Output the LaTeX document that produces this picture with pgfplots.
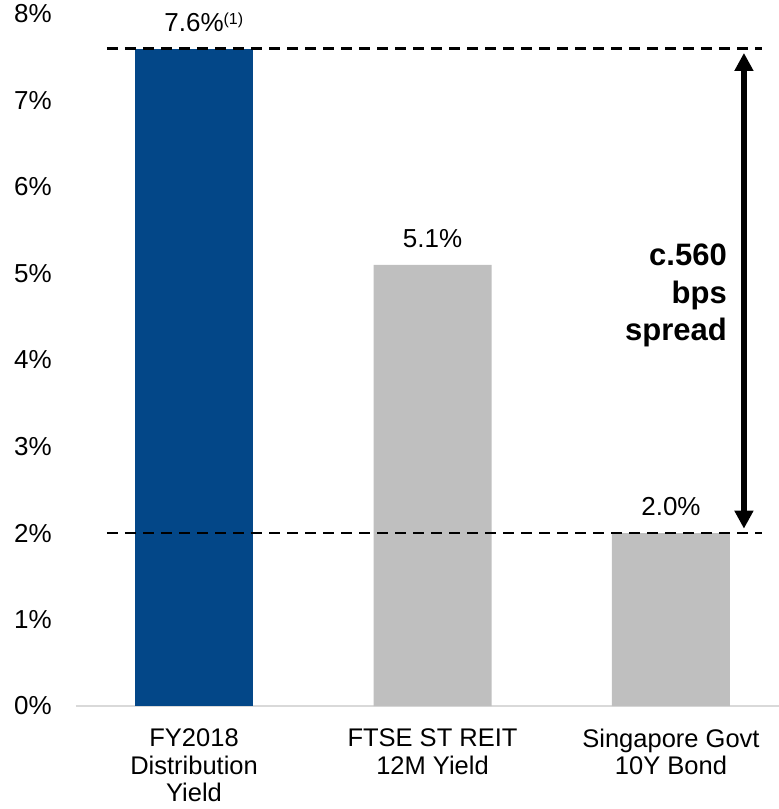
\documentclass[border=0pt]{standalone}
\usepackage{pgfplots}
\pgfplotsset{compat=1.18}
\usetikzlibrary{arrows.meta}
\usepackage{fontspec}
\setmainfont{Liberation Sans}
\definecolor{barblue}{RGB}{3,71,136}
\definecolor{bargray}{RGB}{191,191,191}
\definecolor{axisgray}{RGB}{217,217,217}
\begin{document}
\begin{tikzpicture}
\begin{axis}[
  at={(0,0)}, anchor=south west,
  scale only axis, width=703pt, height=692pt,
  xmin=-0.495, xmax=2.453, ymin=0, ymax=8,
  clip=false,
  axis lines*=left,
  y axis line style={draw=none},
  x axis line style={axisgray, line width=1.5pt},
  major tick length=0pt,
  tick style={draw=none},
  ytick={0,1,2,3,4,5,6,7,8},
  yticklabels={0\%,1\%,2\%,3\%,4\%,5\%,6\%,7\%,8\%},
  xtick={0,1,2},
  xticklabels={{FY2018\\Distribution\\Yield},{FTSE ST REIT\\12M Yield},{Singapore Govt\\10Y Bond}},
  xticklabel style={align=center, anchor=north, inner sep=0pt, yshift=-22.8pt, font=\fontsize{25.5}{27.5}\selectfont},
  yticklabel style={anchor=east, inner sep=0pt, xshift=-24pt, font=\fontsize{26}{30}\selectfont},
  /pgf/number format/assume math mode=true,
]
\addplot[ybar, bar width=118pt, bar shift=0pt, fill=barblue, draw=none,
  point meta=explicit symbolic,
  nodes near coords={\pgfplotspointmeta},
  every node near coord/.append style={anchor=base, inner sep=0pt, yshift=17.5pt, font=\fontsize{26}{30}\selectfont, text=black}]
  coordinates {(0,7.6) [{7.6\%\rlap{\raisebox{7pt}{\fontsize{16}{16}\selectfont(1)}}}]};
\addplot[ybar, bar width=118pt, bar shift=0pt, fill=bargray, draw=none,
  point meta=explicit symbolic,
  nodes near coords={\pgfplotspointmeta},
  every node near coord/.append style={anchor=base, inner sep=0pt, yshift=17.5pt, font=\fontsize{26}{30}\selectfont, text=black}]
  coordinates {(1,5.1) [5.1\%] (2,2.0) [2.0\%]};
\addplot[black, line width=2.8pt, dash pattern=on 11pt off 7pt] coordinates {(-0.365,7.6) (2.38,7.6)};
\addplot[black, line width=2.8pt, dash pattern=on 11pt off 7pt] coordinates {(-0.365,2.0) (2.38,2.0)};
\addplot[black, line width=5.5pt, {Triangle[width=18pt,length=18pt]}-{Triangle[width=18pt,length=18pt]}]
  coordinates {(2.306,2.05) (2.306,7.55)};
\node[anchor=east, align=right, inner sep=0pt, font=\fontsize{31}{37.5}\selectfont\bfseries]
  at (axis cs:2.235,4.745) {c.560\\bps\\spread};
\end{axis}
\pgfresetboundingbox
\path (-76pt,-103pt) rectangle (703pt,706pt);
\end{tikzpicture}
\end{document}
